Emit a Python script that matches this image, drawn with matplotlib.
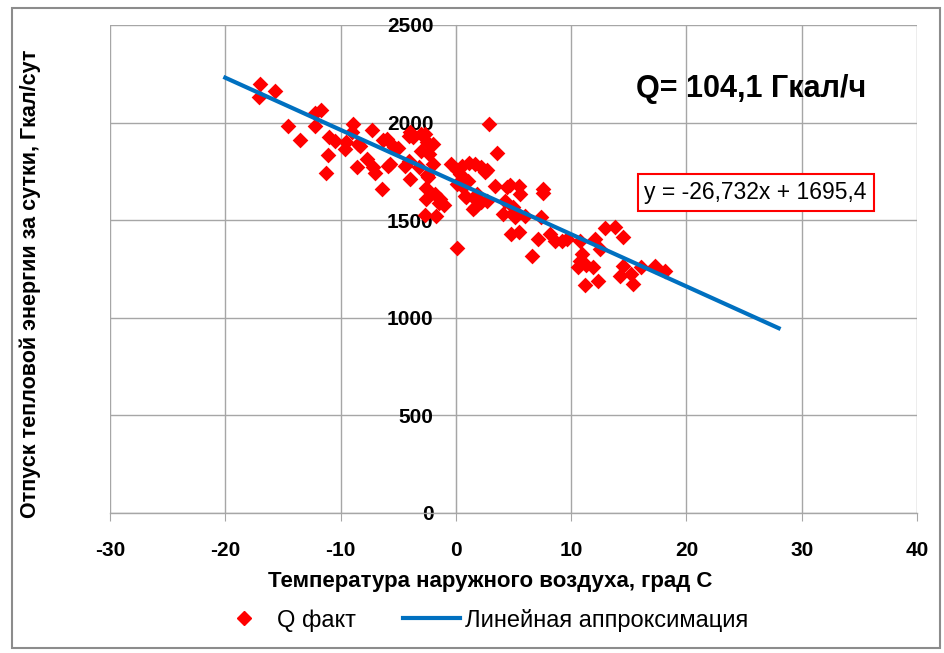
import matplotlib
matplotlib.use("Agg")
import matplotlib.pyplot as plt
from matplotlib.patches import Rectangle
from matplotlib.lines import Line2D
import numpy as np

# ---- data ----
temp = [-17.0, -17.1, -15.7, -14.6, -13.5, -12.2, -11.7, -12.2, -11.0, -10.5,
        -11.1, -11.3, -8.9, -9.0, -9.5, -9.6, -8.3, -8.5, -8.6, -7.7,
        -7.3, -7.2, -7.0, -6.3, -6.0, -5.9, -5.4, -5.0, -6.4, -5.7,
        -4.1, -4.0, -3.7, -3.0, -2.7, -2.5, -2.0, -3.0, -2.3, -4.1,
        -4.4, -3.2, -2.0, -4.0, -2.4, -2.5, -2.6, -2.6, -1.8, -1.4,
        -1.5, -1.0, -1.7, -2.7,
        -0.4, 0.06, 0.5, 1.1, 1.65, 2.2, 2.5, 2.7, 0.35, 1.07,
        0.06, 0.6, 0.9, 0.8, 1.8, 1.8, 2.2, 1.5, 1.65, 2.7,
        0.06, 2.9, 3.6,
        3.4, 4.4, 5.5, 5.6, 4.25, 5.1, 4.1, 5.1, 6.0, 4.8,
        5.5, 6.6, 7.6, 7.55, 7.4, 7.1, 8.2, 8.6, 9.2, 9.6,
        4.7, 5.0,
        10.75, 10.9, 10.75, 11.3, 11.9, 10.6, 11.2, 12.3, 12.1, 12.5,
        12.9, 13.8, 14.5, 14.5, 14.2, 15.2, 15.4, 16.1, 17.3, 18.1]
q_fact = [2200, 2130, 2160, 1985, 1910, 2050, 2065, 1985, 1925, 1905,
          1835, 1740, 1995, 1950, 1900, 1865, 1880, 1890, 1775, 1815,
          1960, 1770, 1740, 1910, 1915, 1780, 1875, 1870, 1660, 1790,
          1930, 1950, 1925, 1940, 1940, 1900, 1890, 1855, 1840, 1805,
          1780, 1770, 1790, 1710, 1720, 1730, 1665, 1610, 1635, 1610,
          1590, 1580, 1520, 1525,
          1790, 1755, 1780, 1795, 1790, 1770, 1745, 1755, 1737, 1702,
          1686, 1668, 1617, 1626, 1634, 1600, 1592, 1558, 1566, 1600,
          1360, 1995, 1845,
          1677, 1668, 1677, 1634, 1600, 1549, 1530, 1515, 1524, 1430,
          1440, 1315, 1660, 1640, 1515, 1404, 1430, 1396, 1396, 1404,
          1680, 1566,
          1396, 1328, 1293, 1268, 1259, 1260, 1166, 1191, 1404, 1353,
          1461, 1467, 1416, 1263, 1212, 1225, 1174, 1259, 1263, 1242]

trend_slope = -26.732
trend_intercept = 1695.4
trend_x = [-20, 28]

x_ticks = [-30, -20, -10, 0, 10, 20, 30, 40]
y_ticks = [0, 500, 1000, 1500, 2000, 2500]

series_names = ["Q факт", "Линейная аппроксимация"]
x_title = "Температура наружного воздуха, град С"
y_title = "Отпуск тепловой энергии за сутки, Гкал/сут"
q_text = "Q= 104,1 Гкал/ч"
eq_text = "y = -26,732x + 1695,4"

# ---- fonts ----
arial = ["Liberation Sans", "DejaVu Sans"]
plt.rcParams["font.family"] = arial
plt.rcParams["axes.unicode_minus"] = False

fig = plt.figure(figsize=(9.45, 6.53), dpi=100)
fig.patches.append(Rectangle((12/945, 1-648/653), (940-12)/945, (648-8)/653,
                             transform=fig.transFigure, fill=False,
                             edgecolor="#8c8c8c", linewidth=1.5))
ax = fig.add_axes([110/945, 1-513/653, (917-110)/945, (513-25)/653])

ax.set_xlim(-30, 40)
ax.set_ylim(0, 2500)
ax.set_xticks(x_ticks)
ax.set_yticks(y_ticks)
ax.grid(True, color="#a6a6a6", linewidth=1)
ax.set_axisbelow(True)
for s in ["top", "right"]:
    ax.spines[s].set_visible(False)
ax.spines["left"].set_position(("data", 0))
ax.spines["left"].set_color("#a6a6a6")
ax.spines["bottom"].set_color("#a6a6a6")
ax.spines["bottom"].set_linewidth(1)
ax.tick_params(axis="y", length=0, pad=16)
ax.tick_params(axis="x", length=6, color="#a6a6a6", pad=14)
for lab in ax.get_xticklabels() + ax.get_yticklabels():
    lab.set_fontweight("bold")
    lab.set_fontsize(15)

ax.scatter(temp, q_fact, marker="D", s=64, color="#ff0000", linewidths=0, zorder=3)
tx = np.array(trend_x, dtype=float)
ax.plot(tx, trend_slope * tx + trend_intercept, color="#0070c0", linewidth=3, zorder=4)

fig.text(490/945, 1-581/653, x_title, ha="center", va="center",
         fontsize=16, fontweight="bold")
fig.text(30/945, 1-284/653, y_title, ha="center", va="center", rotation=90,
         fontsize=15.5, fontweight="bold")

ax.text(0.794, 0.868, q_text, transform=ax.transAxes, ha="center", va="center",
        fontsize=22, fontweight="bold")
ax.text(0.800, 0.656, eq_text, transform=ax.transAxes, ha="center", va="center",
        fontsize=16.5,
        bbox=dict(boxstyle="square,pad=0.3", facecolor="white", edgecolor="#ff0000", linewidth=1.5))

handles = [Line2D([], [], marker="D", color="#ff0000", linestyle="none", markersize=7),
           Line2D([], [], color="#0070c0", linewidth=3)]
fig.legend(handles, series_names, loc="center", bbox_to_anchor=(482/945, 1-620/653),
           ncol=2, frameon=False, prop={"size": 17},
           handlelength=2.4, columnspacing=2.0, handletextpad=0.2)

fig.savefig("out.png", dpi=100)
